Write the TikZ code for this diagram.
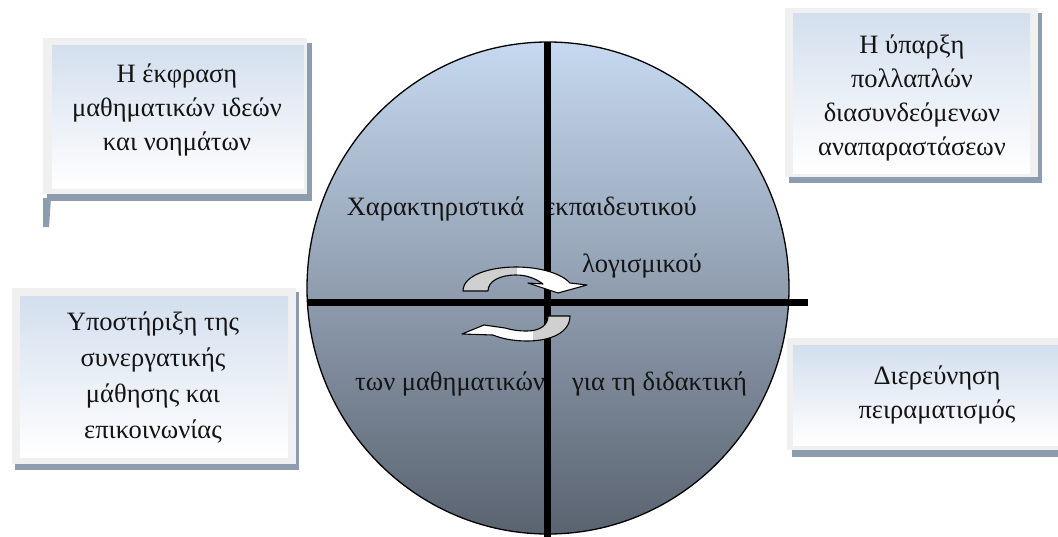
\documentclass[tikz,border=0pt]{standalone}
\usepackage{fontspec}
\setmainfont{Liberation Serif}
\usetikzlibrary{shapes.geometric}
\definecolor{shad}{RGB}{142,156,175}
\definecolor{frm}{RGB}{240,240,240}
\definecolor{boxtop}{RGB}{211,223,238}
\definecolor{ctop}{RGB}{198,217,240}
\definecolor{cbot}{RGB}{90,99,112}
\definecolor{argray}{RGB}{208,208,208}
\definecolor{ink}{RGB}{20,20,20}
\tikzset{
  shadowbox/.style={fill=shad},
  framebox/.style={fill=frm},
  innerbox/.style={top color=boxtop, bottom color=white, inner sep=0pt, anchor=north west},
  boxtext/.style={align=center, inner sep=0pt, text=ink, font=\fontsize{26.5}{34}\selectfont},
  circtext/.style={inner sep=0pt, text=ink, font=\fontsize{26.5}{30}\selectfont},
  divider/.style={line width=7pt, draw=black},
  cyc/.style={draw=black, line width=1.1pt, line join=round}
}
\begin{document}
\begin{tikzpicture}[x=1pt,y=-1pt]
\useasboundingbox (0,0) rectangle (1058,536);
\clip (0,0) rectangle (1058,536);

% ---------- box 1 (top left)
\fill[shadowbox] (47,43) rectangle (312,201);
\fill[shadowbox] (43,198) -- (51,198) -- (49,227) -- (43,227) -- cycle;
\fill[framebox] (43,38) rectangle (307,194);
\node[innerbox, minimum width=252pt, minimum height=143pt] (b1) at (52,45) {};
\node[boxtext] (b1t) at (177,110) {Η έκφραση\\μαθηματικών ιδεών\\και νοημάτων};

% ---------- box 2 (top right)
\fill[shadowbox] (789,13) rectangle (1042,183);
\fill[framebox] (785,8) rectangle (1038,177);
\node[innerbox, minimum width=237pt, minimum height=160pt] (b2) at (793,13) {};
\node[boxtext] (b2t) at (912,97.5) {Η ύπαρξη\\πολλαπλών\\διασυνδεόμενων\\αναπαραστάσεων};

% ---------- box 3 (middle left)
\fill[shadowbox] (15,292) rectangle (299,470);
\fill[framebox] (12,288) rectangle (296,464);
\node[innerbox, minimum width=268pt, minimum height=161pt] (b3) at (20,296) {};
\node[boxtext, font=\fontsize{26.5}{36}\selectfont] (b3t) at (153,377) {Υποστήριξη της\\συνεργατικής\\μάθησης και\\επικοινωνίας};

% ---------- box 4 (middle right)
\fill[shadowbox] (792,344) rectangle (1075,457);
\fill[framebox] (787,338) rectangle (1070,450);
\node[innerbox, minimum width=272pt, minimum height=100pt] (b4) at (793,345) {};
\node[boxtext] (b4t) at (937,395) {Διερεύνηση\\πειραματισμός};

% ---------- circle
\node[ellipse, minimum width=482pt, minimum height=492pt, inner sep=0pt,
      top color=ctop, bottom color=cbot, draw=black, line width=1.3pt] (circ) at (548,288) {};

% labels in the circle
\node[circtext, anchor=base] (t1) at (435.5,215) {Χαρακτηριστικά};
\node[circtext, anchor=base east] (t2) at (697,215) {εκπαιδευτικού};
\node[circtext, anchor=base east] (t3) at (702,272) {λογισμικού};
\node[circtext, anchor=base west] (t4) at (355,390) {των μαθηματικών};
\node[circtext, anchor=base west] (t5) at (572,390) {για τη διδακτική};

% dividing lines
\coordinate (vt) at (547,42);
\coordinate (vb) at (547,540);
\coordinate (hl) at (307,302);
\coordinate (hr) at (808,302);
\draw[divider] (vt) -- (vb);
\draw[divider] (hl) -- (hr);

% ---------- cycle arrows
\def\arrowA{(463,291) .. controls (463,275) and (490,267) .. (516,267) .. controls (541,267) and (562,274) .. (570,283) -- (587,285) -- (558,293) -- (528,283) -- (543,284) .. controls (535,278) and (526,275) .. (516,275) .. controls (500,275) and (488,281) .. (488,291) -- cycle}
\def\arrowB{(570,316) .. controls (570,333) and (550,341) .. (527,341) .. controls (512,341) and (500,338) .. (493,335) -- (462,334) -- (484,325) -- (505,328) .. controls (512,330) and (518,331) .. (527,331) .. controls (540,331) and (548,325) .. (548,316) -- cycle}

\fill[white] \arrowA;
\begin{scope}
  \clip (0,0) rectangle (517,536);
  \fill[argray] \arrowA;
\end{scope}
\draw[cyc] \arrowA;

\fill[white] \arrowB;
\begin{scope}
  \clip (533,0) rectangle (1058,536);
  \fill[argray] \arrowB;
\end{scope}
\draw[cyc] \arrowB;
\end{tikzpicture}
\end{document}
